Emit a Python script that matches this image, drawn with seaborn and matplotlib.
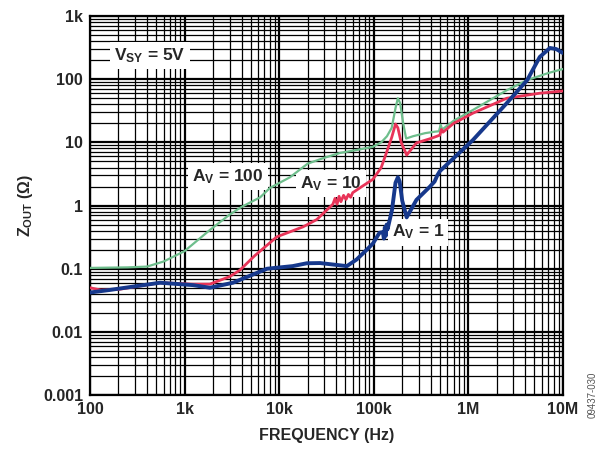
import numpy as np
import pandas as pd
import matplotlib
matplotlib.use("Agg")
import matplotlib.pyplot as plt
import seaborn as sns

# frequency (Hz) vs output impedance (ohm)
f_av100 = [100, 250, 400, 600, 1000, 1850, 3000, 4000, 6300, 8000, 13000, 20000, 30000,
           44000, 70000, 98000, 120000, 138000, 155000, 170000, 180000, 190000, 205000,
           220000, 260000, 350000, 450000, 490000, 510000, 530000, 700000, 1120000,
           2560000, 4200000, 7000000, 10000000]
z_av100 = [0.103, 0.105, 0.108, 0.13, 0.19, 0.41, 0.72, 0.95, 1.35, 1.9, 2.8, 4.6, 5.7,
           6.8, 7.7, 8.5, 10, 12.5, 17, 35, 50, 42, 20,
           11.5, 12.5, 14, 14.8, 15, 19, 16, 22, 32.6,
           67, 97, 125, 145]

f_av10 = [100, 130, 200, 550, 1230, 1850, 3000, 3850, 5500, 9460, 17900, 25000, 37000,
          39000, 41000, 43000, 45000, 48000, 51000, 54000, 57000, 60000, 75000, 98000,
          120000, 137000, 155000, 170000, 180000, 195000, 223000, 283000, 400000, 500000,
          520000, 540000, 700000, 1120000, 2560000, 5700000, 10000000]
z_av10 = [0.05, 0.046, 0.047, 0.06, 0.057, 0.057, 0.075, 0.095, 0.16, 0.32, 0.46, 0.6, 1.05,
          1.3, 1.05, 1.4, 1.15, 1.45, 1.25, 1.5, 1.35, 1.6, 2.0, 2.6,
          4.0, 7.0, 12, 19.5, 17, 10, 6.3, 9.8, 11.5, 13,
          16, 14.5, 20, 29, 50, 60, 65]

f_av1 = [100, 160, 550, 1230, 1850, 3250, 7450, 13900, 19600, 27000, 40000, 52000, 66000,
         84500, 98000, 115000, 125000, 128000, 131000, 134000, 137000, 140000, 156000,
         170000, 180000, 188000, 200000, 223000, 283000, 390000, 440000, 470000, 500000,
         1120000, 2560000, 4200000, 5700000, 7300000, 8500000, 10000000]
z_av1 = [0.042, 0.046, 0.06, 0.055, 0.05, 0.06, 0.1, 0.11, 0.122, 0.123, 0.115, 0.11, 0.14,
         0.2, 0.25, 0.37, 0.38, 0.3, 0.45, 0.33, 0.5, 0.42, 0.85,
         2.3, 2.8, 2.4, 1.2, 0.65, 1.23, 1.97, 2.4, 3.0, 3.5,
         10.9, 42, 97, 225, 312, 300, 260]

x_ticks = [1e2, 1e3, 1e4, 1e5, 1e6, 1e7]
x_labels = ['100', '1k', '10k', '100k', '1M', '10M']
y_ticks = [1e-3, 1e-2, 1e-1, 1, 10, 100, 1000]
y_labels = ['0.001', '0.01', '0.1', '1', '10', '100', '1k']

sns.set_style("white")
plt.rcParams['font.family'] = ['Liberation Sans', 'DejaVu Sans']
plt.rcParams['font.weight'] = 'bold'
plt.rcParams['mathtext.fontset'] = 'custom'
plt.rcParams['mathtext.rm'] = 'Liberation Sans:bold'
plt.rcParams['mathtext.bf'] = 'Liberation Sans:bold'
plt.rcParams['mathtext.it'] = 'Liberation Sans:bold'
plt.rcParams['mathtext.default'] = 'bf'

fig = plt.figure(figsize=(6.02, 4.51), dpi=100)
ax = fig.add_axes([0.1495, 0.124, 0.7855, 0.8405])

sns.lineplot(x=f_av100, y=z_av100, ax=ax, color='#6EBE8C', lw=1.6, estimator=None, zorder=3)
sns.lineplot(x=f_av10, y=z_av10, ax=ax, color='#E83458', lw=2.0, estimator=None, zorder=4)
sns.lineplot(x=f_av1, y=z_av1, ax=ax, color='#16388C', lw=2.8, estimator=None, zorder=5)

ax.set_xscale('log')
ax.set_yscale('log')
ax.set_xlim(1e2, 1e7)
ax.set_ylim(1e-3, 1e3)
ax.set_xticks(x_ticks)
ax.set_xticklabels(x_labels)
ax.set_yticks(y_ticks)
ax.set_yticklabels(y_labels)
ax.yaxis.set_minor_locator(matplotlib.ticker.LogLocator(base=10, subs=np.arange(2, 10), numticks=20))
ax.xaxis.set_minor_locator(matplotlib.ticker.LogLocator(base=10, subs=np.arange(2, 10), numticks=20))
ax.tick_params(which='both', length=0, labelsize=11.5, pad=5)
for lab in ax.get_xticklabels() + ax.get_yticklabels():
    lab.set_fontweight('bold')

ax.set_axisbelow(True)
ax.grid(which='major', color='black', lw=1.6)
ax.grid(which='minor', color='black', lw=0.9)
for s in ax.spines.values():
    s.set_color('black')
    s.set_linewidth(1.6)

ax.set_xlabel('FREQUENCY (Hz)', fontsize=11.5, fontweight='bold', labelpad=8)
ax.set_ylabel(r'Z$_{OUT}$ (Ω)', fontsize=11.5, fontweight='bold', labelpad=6)

# labels sit above the grid but under the curves
box = dict(facecolor='white', edgecolor='none', pad=3)
ax.text(430, 240, r'V$_{SY}$ = 5V', fontsize=12.5, fontweight='bold', ha='center', va='center', bbox=box, zorder=2)
ax.text(2880, 2.84, r'A$_{V}$ = 100', fontsize=12.5, fontweight='bold', ha='center', va='center', bbox=box, zorder=2)
ax.text(35300, 2.25, r'A$_{V}$ = 10', fontsize=12.5, fontweight='bold', ha='center', va='center', bbox=box, zorder=2)
ax.text(293000, 0.38, r'A$_{V}$ = 1', fontsize=12.5, fontweight='bold', ha='center', va='center', bbox=box, zorder=2)

fig.text(0.985, 0.125, '09437-030', rotation=90, fontsize=7, color='#555555',
         fontweight='normal', ha='center', va='center')

fig.savefig('out.png', dpi=100)
